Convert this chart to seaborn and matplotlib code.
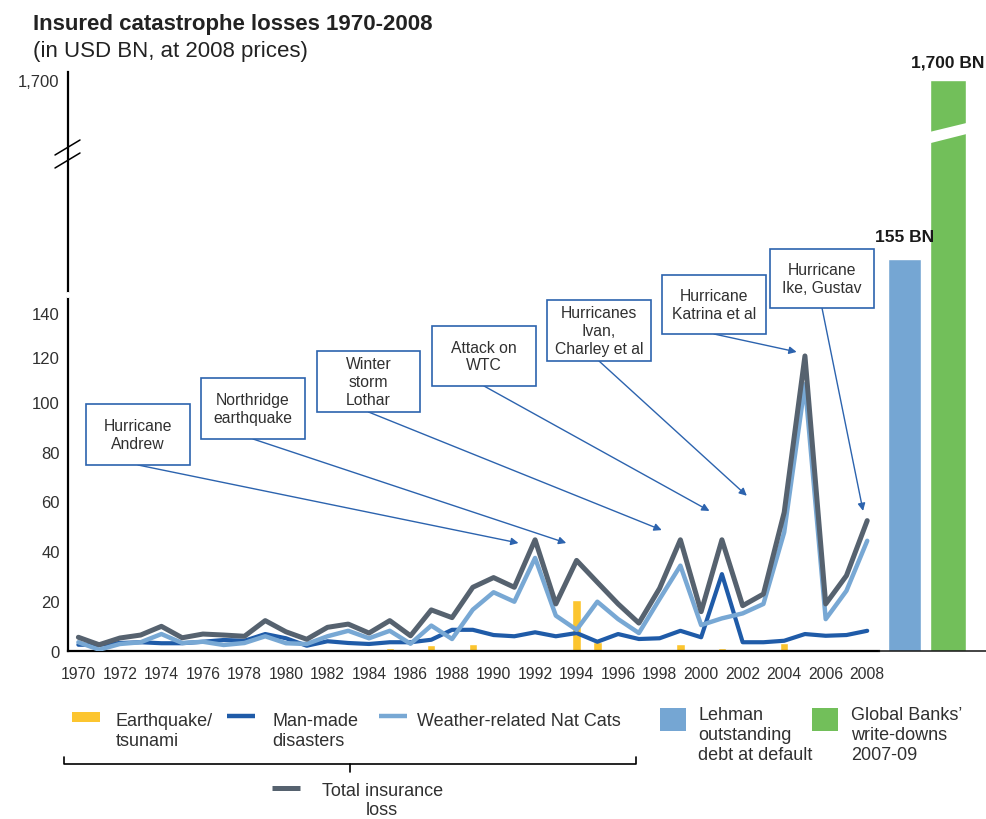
import numpy as np
import matplotlib
matplotlib.use("Agg")
import matplotlib.pyplot as plt
import matplotlib.transforms as mtransforms
from matplotlib.patches import Rectangle, Polygon
from matplotlib.lines import Line2D
import seaborn as sns

# --- data (USD BN, 2008 prices) ---
years = list(range(1970, 2009))
total_loss = [5.4, 2.4, 5.1, 6.3, 9.8, 5.2, 6.7, 6.3, 5.8, 12.1,
              7.6, 4.6, 9.4, 10.7, 7.1, 12.1, 6.0, 16.4, 13.3, 25.5,
              29.4, 25.5, 44.6, 18.8, 36.3, 27.5, 18.8, 11.1, 25.1, 44.6,
              15.7, 44.6, 18.1, 22.8, 55.6, 120.7, 18.8, 30.2, 52.3]
weather_loss = [3.4, 0.4, 2.7, 3.4, 6.7, 3.1, 3.6, 2.3, 3.1, 5.8,
                3.0, 2.7, 5.8, 8.0, 5.0, 8.0, 2.8, 10.1, 4.7, 16.5,
                23.5, 19.7, 37.3, 14.1, 8.4, 19.7, 12.7, 7.1, 20.8, 34.2,
                10.3, 13.0, 15.0, 18.8, 47.6, 108.0, 12.7, 24.1, 44.2]
manmade_loss = [2.4, 2.4, 3.1, 3.4, 3.0, 3.0, 3.6, 4.3, 4.0, 6.7,
                5.0, 2.0, 3.8, 3.1, 2.7, 3.4, 3.4, 4.4, 8.4, 8.4,
                6.3, 5.8, 7.4, 5.8, 7.1, 3.6, 6.7, 4.7, 5.0, 8.0,
                5.4, 30.8, 3.4, 3.4, 4.0, 6.7, 6.0, 6.3, 8.0]
quake_loss = [0, 0, 0.5, 0, 0, 0, 0.5, 0, 0, 0,
              0, 0, 0, 0, 0, 1.0, 0.5, 2.3, 0, 2.7,
              0.5, 0, 0, 0, 20.4, 3.4, 0, 0, 0, 2.7,
              0, 1.0, 0, 0.5, 3.1, 0.5, 0, 0.5, 0.3]

crisis_names = ["Lehman outstanding debt at default", "Global Banks' write-downs 2007-09"]
crisis_values = [155, 1700]

x_ticks = list(range(1970, 2009, 2))
y_ticks = [0, 20, 40, 60, 80, 100, 120, 140, 1700]
y_ticklabels = ["0", "20", "40", "60", "80", "100", "120", "140", "1,700"]

events = ["Hurricane\nAndrew", "Northridge\nearthquake", "Winter\nstorm\nLothar",
          "Attack on\nWTC", "Hurricanes\nIvan,\nCharley et al",
          "Hurricane\nKatrina et al", "Hurricane\nIke, Gustav"]

# --- styling / layout ---
C_TOTAL = "#56626F"
C_WEATHER = "#78A8D4"
C_MANMADE = "#1F5BA8"
C_QUAKE = "#FCC52F"
C_LEHMAN = "#75A6D3"
C_BANKS = "#72BF5A"
C_NOTE = "#2C63AE"
C_TEXT = "#303030"

W, H = 987, 820


def fx(x):
    return x / W


def fy(y):
    return 1 - y / H


# broken y axis: piecewise linear scale (value -> pixel height)
SCALE_V = [-100, 0, 100, 140, 155, 1700, 5000]
SCALE_H = [-248.7, 0, 248.7, 337.7, 391.7, 570.7, 953.0]


def fwd(v):
    return np.interp(v, SCALE_V, SCALE_H)


def inv(h):
    return np.interp(h, SCALE_H, SCALE_V)


sns.set_style("white")
plt.rcParams["font.family"] = ["Liberation Sans", "DejaVu Sans"]

fig = plt.figure(figsize=(W / 100, H / 100), dpi=100)
ax = fig.add_axes([fx(68), fy(651.7), (W - 68) / W, 578.7 / H])
ax.set_yscale("function", functions=(fwd, inv))

sns.barplot(x=years, y=quake_loss, native_scale=True, width=0.4, color=C_QUAKE,
            saturation=1, errorbar=None, ax=ax, zorder=2)
sns.lineplot(x=years, y=manmade_loss, color=C_MANMADE, linewidth=3.0, ax=ax, zorder=3)
sns.lineplot(x=years, y=weather_loss, color=C_WEATHER, linewidth=3.2, ax=ax, zorder=4)
sns.lineplot(x=years, y=total_loss, color=C_TOTAL, linewidth=3.6, ax=ax, zorder=5)

# crisis comparison bars to the right of the time series
crisis_x = [2009.8, 2011.9]
ax.bar(crisis_x, crisis_values, width=[1.61, 1.73], color=[C_LEHMAN, C_BANKS], zorder=2)
for x, v, off in zip(crisis_x, crisis_values, [13, 9.5]):
    ax.annotate(f"{v:,} BN", xy=(x, v), xytext=(0, off), textcoords="offset points",
                ha="center", va="baseline", fontsize=12.5, fontweight="bold",
                color="#1a1a1a", annotation_clip=False)

ax.set_xlim(1969.5, 2013.77)
ax.set_ylim(0, 1769)
ax.set_xticks(x_ticks)
ax.set_xticklabels([str(t) for t in x_ticks])
ax.set_yticks(y_ticks)
ax.set_yticklabels(y_ticklabels)
ax.minorticks_off()
ax.tick_params(axis="x", length=0, pad=11, labelsize=11.3, labelcolor=C_TEXT)
ax.tick_params(axis="y", length=0, pad=6, labelsize=12, labelcolor=C_TEXT)
ax.set_xlabel("")
ax.set_ylabel("")

for s in ["top", "right"]:
    ax.spines[s].set_visible(False)
for s in ["left", "bottom"]:
    ax.spines[s].set_color("black")
    ax.spines[s].set_linewidth(1.6)
ax.spines["bottom"].set_bounds(1969.5, 2008.55)
ax.plot([2008.55, 2013.77], [0, 0], color="#111111", lw=1.1, clip_on=False, zorder=6)

# small gap in the y axis and the break marks
trans = mtransforms.blended_transform_factory(ax.transAxes, ax.transData)
ax.plot([0, 0], [144.6, 145.4], transform=trans, color="white", lw=3, clip_on=False, zorder=7)
for y0 in (156, 169):
    fig.add_artist(Line2D([fx(55), fx(80)], [fy(y0), fy(y0 - 15)],
                          transform=fig.transFigure, color="black", lw=1.1))

# break in the global banks bar
fig.add_artist(Polygon([(fx(927), fy(133.6)), (fx(971), fy(122.9)),
                        (fx(971), fy(133.9)), (fx(927), fy(145.0))],
                       closed=True, facecolor="white", edgecolor="none",
                       transform=fig.transFigure, zorder=3))

# event call-outs
event_boxes = [(86, 405, 190, 466), (201, 379, 305, 440), (317, 352, 420, 413),
               (432, 327, 536, 387), (547, 301, 651, 362), (662, 276, 766, 335),
               (770, 250, 874, 309)]
event_targets = [(1991.2, 43.3), (1993.5, 43.3), (1998.1, 48.5), (2000.4, 56.2),
                 (2002.2, 62.3), (2004.6, 122.5), (2007.8, 56.2)]
for label, (x0, y0, x1, y1), tgt in zip(events, event_boxes, event_targets):
    ax.annotate("", xy=tgt, xycoords="data",
                xytext=(fx((x0 + x1) / 2), fy(y1)), textcoords="figure fraction",
                arrowprops=dict(arrowstyle="-|>", color=C_NOTE, lw=1.0,
                                shrinkA=0, shrinkB=0, mutation_scale=11),
                annotation_clip=False)
    fig.add_artist(Rectangle((fx(x0), fy(y1)), (x1 - x0) / W, (y1 - y0) / H,
                             transform=fig.transFigure, facecolor="white",
                             edgecolor=C_NOTE, lw=1.2, zorder=4))
    fig.text(fx((x0 + x1) / 2), fy((y0 + y1) / 2), label, ha="center", va="center",
             fontsize=11.3, linespacing=1.22, color=C_TEXT, zorder=5)

# titles
fig.text(fx(33), fy(30), "Insured catastrophe losses 1970-2008", fontsize=16,
         fontweight="bold", color="#222222", va="baseline")
fig.text(fx(33), fy(57), "(in USD BN, at 2008 prices)", fontsize=16,
         color="#222222", va="baseline")

# legend, drawn by hand to keep the bracket layout
fig.add_artist(Rectangle((fx(72), fy(723)), 28 / W, 10 / H, transform=fig.transFigure,
                         facecolor=C_QUAKE, edgecolor="none"))
fig.add_artist(Line2D([fx(227), fx(255)], [fy(717), fy(717)], transform=fig.transFigure,
                      color=C_MANMADE, lw=3.2, solid_capstyle="butt"))
fig.add_artist(Line2D([fx(379), fx(407)], [fy(717), fy(717)], transform=fig.transFigure,
                      color=C_WEATHER, lw=3.2, solid_capstyle="butt"))
fig.add_artist(Line2D([fx(272), fx(300)], [fy(789), fy(789)], transform=fig.transFigure,
                      color=C_TOTAL, lw=3.6, solid_capstyle="butt"))
fig.add_artist(Rectangle((fx(660), fy(732)), 26 / W, 23 / H, transform=fig.transFigure,
                         facecolor=C_LEHMAN, edgecolor="none"))
fig.add_artist(Rectangle((fx(812), fy(732)), 26 / W, 23 / H, transform=fig.transFigure,
                         facecolor=C_BANKS, edgecolor="none"))

leg_kw = dict(fontsize=13, color=C_TEXT, va="top", ha="left", linespacing=1.22)
fig.text(fx(115.7), fy(713), "Earthquake/\ntsunami", **leg_kw)
fig.text(fx(272.7), fy(713), "Man-made\ndisasters", **leg_kw)
fig.text(fx(416.7), fy(713), "Weather-related Nat Cats", **leg_kw)
fig.text(fx(698.3), fy(707), "Lehman\noutstanding\ndebt at default", **leg_kw)
fig.text(fx(851.3), fy(707), "Global Banks\u2019\nwrite-downs\n2007-09", **leg_kw)
fig.text(fx(321.7), fy(783), "Total insurance\nloss", multialignment="center",
         fontsize=13, color=C_TEXT, va="top", ha="left", linespacing=1.12)

# bracket grouping the three components
fig.add_artist(Line2D([fx(64.3), fx(64.3), fx(636), fx(636)],
                      [fy(758), fy(765), fy(765), fy(758)],
                      transform=fig.transFigure, color="black", lw=1.2))
fig.add_artist(Line2D([fx(350), fx(350)], [fy(765), fy(773)],
                      transform=fig.transFigure, color="black", lw=1.2))

fig.savefig("out.png", dpi=100)
